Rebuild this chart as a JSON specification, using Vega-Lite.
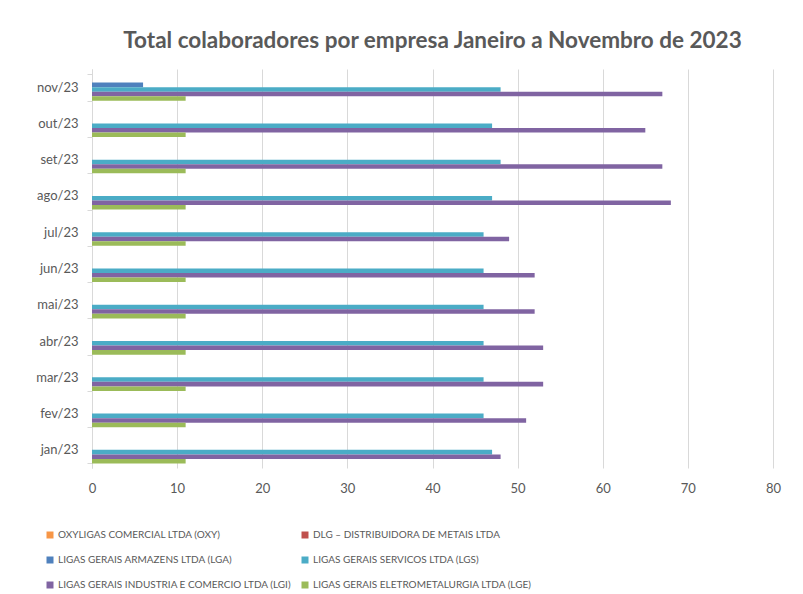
{
  "$schema": "https://vega.github.io/schema/vega-lite/v6.json",
  "width": 681,
  "height": 399,
  "autosize": {"type": "none"},
  "padding": {"left": 92, "top": 69, "right": 30, "bottom": 126},
  "background": "white",
  "title": {
    "text": "Total colaboradores por empresa Janeiro a Novembro de 2023",
    "fontSize": 22.5,
    "fontWeight": "bold",
    "font": "Lato",
    "color": "#595959",
    "anchor": "middle",
    "offset": 11
  },
  "datasets": {
    "rows": [
      {"mes": "jan/23", "empresa": "OXYLIGAS COMERCIAL LTDA (OXY)", "total": 0},
      {"mes": "jan/23", "empresa": "DLG – DISTRIBUIDORA DE METAIS LTDA", "total": 0},
      {"mes": "jan/23", "empresa": "LIGAS GERAIS ARMAZENS LTDA (LGA)", "total": 0},
      {"mes": "jan/23", "empresa": "LIGAS GERAIS SERVICOS LTDA (LGS)", "total": 47},
      {"mes": "jan/23", "empresa": "LIGAS GERAIS INDUSTRIA E COMERCIO LTDA (LGI)", "total": 48},
      {"mes": "jan/23", "empresa": "LIGAS GERAIS ELETROMETALURGIA LTDA (LGE)", "total": 11},
      {"mes": "fev/23", "empresa": "OXYLIGAS COMERCIAL LTDA (OXY)", "total": 0},
      {"mes": "fev/23", "empresa": "DLG – DISTRIBUIDORA DE METAIS LTDA", "total": 0},
      {"mes": "fev/23", "empresa": "LIGAS GERAIS ARMAZENS LTDA (LGA)", "total": 0},
      {"mes": "fev/23", "empresa": "LIGAS GERAIS SERVICOS LTDA (LGS)", "total": 46},
      {"mes": "fev/23", "empresa": "LIGAS GERAIS INDUSTRIA E COMERCIO LTDA (LGI)", "total": 51},
      {"mes": "fev/23", "empresa": "LIGAS GERAIS ELETROMETALURGIA LTDA (LGE)", "total": 11},
      {"mes": "mar/23", "empresa": "OXYLIGAS COMERCIAL LTDA (OXY)", "total": 0},
      {"mes": "mar/23", "empresa": "DLG – DISTRIBUIDORA DE METAIS LTDA", "total": 0},
      {"mes": "mar/23", "empresa": "LIGAS GERAIS ARMAZENS LTDA (LGA)", "total": 0},
      {"mes": "mar/23", "empresa": "LIGAS GERAIS SERVICOS LTDA (LGS)", "total": 46},
      {"mes": "mar/23", "empresa": "LIGAS GERAIS INDUSTRIA E COMERCIO LTDA (LGI)", "total": 53},
      {"mes": "mar/23", "empresa": "LIGAS GERAIS ELETROMETALURGIA LTDA (LGE)", "total": 11},
      {"mes": "abr/23", "empresa": "OXYLIGAS COMERCIAL LTDA (OXY)", "total": 0},
      {"mes": "abr/23", "empresa": "DLG – DISTRIBUIDORA DE METAIS LTDA", "total": 0},
      {"mes": "abr/23", "empresa": "LIGAS GERAIS ARMAZENS LTDA (LGA)", "total": 0},
      {"mes": "abr/23", "empresa": "LIGAS GERAIS SERVICOS LTDA (LGS)", "total": 46},
      {"mes": "abr/23", "empresa": "LIGAS GERAIS INDUSTRIA E COMERCIO LTDA (LGI)", "total": 53},
      {"mes": "abr/23", "empresa": "LIGAS GERAIS ELETROMETALURGIA LTDA (LGE)", "total": 11},
      {"mes": "mai/23", "empresa": "OXYLIGAS COMERCIAL LTDA (OXY)", "total": 0},
      {"mes": "mai/23", "empresa": "DLG – DISTRIBUIDORA DE METAIS LTDA", "total": 0},
      {"mes": "mai/23", "empresa": "LIGAS GERAIS ARMAZENS LTDA (LGA)", "total": 0},
      {"mes": "mai/23", "empresa": "LIGAS GERAIS SERVICOS LTDA (LGS)", "total": 46},
      {"mes": "mai/23", "empresa": "LIGAS GERAIS INDUSTRIA E COMERCIO LTDA (LGI)", "total": 52},
      {"mes": "mai/23", "empresa": "LIGAS GERAIS ELETROMETALURGIA LTDA (LGE)", "total": 11},
      {"mes": "jun/23", "empresa": "OXYLIGAS COMERCIAL LTDA (OXY)", "total": 0},
      {"mes": "jun/23", "empresa": "DLG – DISTRIBUIDORA DE METAIS LTDA", "total": 0},
      {"mes": "jun/23", "empresa": "LIGAS GERAIS ARMAZENS LTDA (LGA)", "total": 0},
      {"mes": "jun/23", "empresa": "LIGAS GERAIS SERVICOS LTDA (LGS)", "total": 46},
      {"mes": "jun/23", "empresa": "LIGAS GERAIS INDUSTRIA E COMERCIO LTDA (LGI)", "total": 52},
      {"mes": "jun/23", "empresa": "LIGAS GERAIS ELETROMETALURGIA LTDA (LGE)", "total": 11},
      {"mes": "jul/23", "empresa": "OXYLIGAS COMERCIAL LTDA (OXY)", "total": 0},
      {"mes": "jul/23", "empresa": "DLG – DISTRIBUIDORA DE METAIS LTDA", "total": 0},
      {"mes": "jul/23", "empresa": "LIGAS GERAIS ARMAZENS LTDA (LGA)", "total": 0},
      {"mes": "jul/23", "empresa": "LIGAS GERAIS SERVICOS LTDA (LGS)", "total": 46},
      {"mes": "jul/23", "empresa": "LIGAS GERAIS INDUSTRIA E COMERCIO LTDA (LGI)", "total": 49},
      {"mes": "jul/23", "empresa": "LIGAS GERAIS ELETROMETALURGIA LTDA (LGE)", "total": 11},
      {"mes": "ago/23", "empresa": "OXYLIGAS COMERCIAL LTDA (OXY)", "total": 0},
      {"mes": "ago/23", "empresa": "DLG – DISTRIBUIDORA DE METAIS LTDA", "total": 0},
      {"mes": "ago/23", "empresa": "LIGAS GERAIS ARMAZENS LTDA (LGA)", "total": 0},
      {"mes": "ago/23", "empresa": "LIGAS GERAIS SERVICOS LTDA (LGS)", "total": 47},
      {"mes": "ago/23", "empresa": "LIGAS GERAIS INDUSTRIA E COMERCIO LTDA (LGI)", "total": 68},
      {"mes": "ago/23", "empresa": "LIGAS GERAIS ELETROMETALURGIA LTDA (LGE)", "total": 11},
      {"mes": "set/23", "empresa": "OXYLIGAS COMERCIAL LTDA (OXY)", "total": 0},
      {"mes": "set/23", "empresa": "DLG – DISTRIBUIDORA DE METAIS LTDA", "total": 0},
      {"mes": "set/23", "empresa": "LIGAS GERAIS ARMAZENS LTDA (LGA)", "total": 0},
      {"mes": "set/23", "empresa": "LIGAS GERAIS SERVICOS LTDA (LGS)", "total": 48},
      {"mes": "set/23", "empresa": "LIGAS GERAIS INDUSTRIA E COMERCIO LTDA (LGI)", "total": 67},
      {"mes": "set/23", "empresa": "LIGAS GERAIS ELETROMETALURGIA LTDA (LGE)", "total": 11},
      {"mes": "out/23", "empresa": "OXYLIGAS COMERCIAL LTDA (OXY)", "total": 0},
      {"mes": "out/23", "empresa": "DLG – DISTRIBUIDORA DE METAIS LTDA", "total": 0},
      {"mes": "out/23", "empresa": "LIGAS GERAIS ARMAZENS LTDA (LGA)", "total": 0},
      {"mes": "out/23", "empresa": "LIGAS GERAIS SERVICOS LTDA (LGS)", "total": 47},
      {"mes": "out/23", "empresa": "LIGAS GERAIS INDUSTRIA E COMERCIO LTDA (LGI)", "total": 65},
      {"mes": "out/23", "empresa": "LIGAS GERAIS ELETROMETALURGIA LTDA (LGE)", "total": 11},
      {"mes": "nov/23", "empresa": "OXYLIGAS COMERCIAL LTDA (OXY)", "total": 0},
      {"mes": "nov/23", "empresa": "DLG – DISTRIBUIDORA DE METAIS LTDA", "total": 0},
      {"mes": "nov/23", "empresa": "LIGAS GERAIS ARMAZENS LTDA (LGA)", "total": 6},
      {"mes": "nov/23", "empresa": "LIGAS GERAIS SERVICOS LTDA (LGS)", "total": 48},
      {"mes": "nov/23", "empresa": "LIGAS GERAIS INDUSTRIA E COMERCIO LTDA (LGI)", "total": 67},
      {"mes": "nov/23", "empresa": "LIGAS GERAIS ELETROMETALURGIA LTDA (LGE)", "total": 11}
    ]
  },
  "data": {"name": "rows"},
  "mark": {"type": "bar"},
  "encoding": {
    "y": {
      "field": "mes",
      "type": "nominal",
      "sort": ["nov/23", "out/23", "set/23", "ago/23", "jul/23", "jun/23", "mai/23", "abr/23", "mar/23", "fev/23", "jan/23"],
      "scale": {"paddingInner": 0.25, "paddingOuter": 0.125},
      "axis": {
        "title": null,
        "tickBand": "extent",
        "tickSize": 5,
        "tickColor": "#d9d9d9",
        "domainColor": "#d9d9d9",
        "labelFont": "Lato",
        "labelFontSize": 13,
        "labelColor": "#595959",
        "labelPadding": 9,
        "grid": false
      }
    },
    "yOffset": {
      "field": "empresa",
      "type": "nominal",
      "sort": [
        "OXYLIGAS COMERCIAL LTDA (OXY)",
        "DLG – DISTRIBUIDORA DE METAIS LTDA",
        "LIGAS GERAIS ARMAZENS LTDA (LGA)",
        "LIGAS GERAIS SERVICOS LTDA (LGS)",
        "LIGAS GERAIS INDUSTRIA E COMERCIO LTDA (LGI)",
        "LIGAS GERAIS ELETROMETALURGIA LTDA (LGE)"
      ],
      "scale": {"paddingInner": 0, "paddingOuter": 0}
    },
    "x": {
      "field": "total",
      "type": "quantitative",
      "scale": {"domain": [0, 80], "nice": false},
      "axis": {
        "title": null,
        "values": [0, 10, 20, 30, 40, 50, 60, 70, 80],
        "grid": true,
        "gridColor": "#d9d9d9",
        "domain": false,
        "ticks": false,
        "labelFlush": false,
        "labelFont": "Lato",
        "labelFontSize": 13,
        "labelColor": "#595959",
        "labelPadding": 14
      }
    },
    "color": {
      "field": "empresa",
      "type": "nominal",
      "scale": {
        "domain": [
          "OXYLIGAS COMERCIAL LTDA (OXY)",
          "DLG – DISTRIBUIDORA DE METAIS LTDA",
          "LIGAS GERAIS ARMAZENS LTDA (LGA)",
          "LIGAS GERAIS SERVICOS LTDA (LGS)",
          "LIGAS GERAIS INDUSTRIA E COMERCIO LTDA (LGI)",
          "LIGAS GERAIS ELETROMETALURGIA LTDA (LGE)"
        ],
        "range": ["#F79646", "#C0504D", "#4F81BD", "#4BACC6", "#8064A2", "#9BBB59"]
      },
      "legend": {
        "title": null,
        "orient": "none",
        "legendX": -47,
        "legendY": 461,
        "columns": 2,
        "direction": "horizontal",
        "columnPadding": 8,
        "rowPadding": 15,
        "symbolType": "square",
        "symbolSize": 49,
        "symbolStrokeWidth": 0,
        "symbolOffset": 0,
        "labelOffset": 3,
        "labelFont": "Lato",
        "labelFontSize": 10,
        "labelColor": "#595959",
        "labelLimit": 400
      }
    }
  },
  "config": {"view": {"stroke": null}}
}
